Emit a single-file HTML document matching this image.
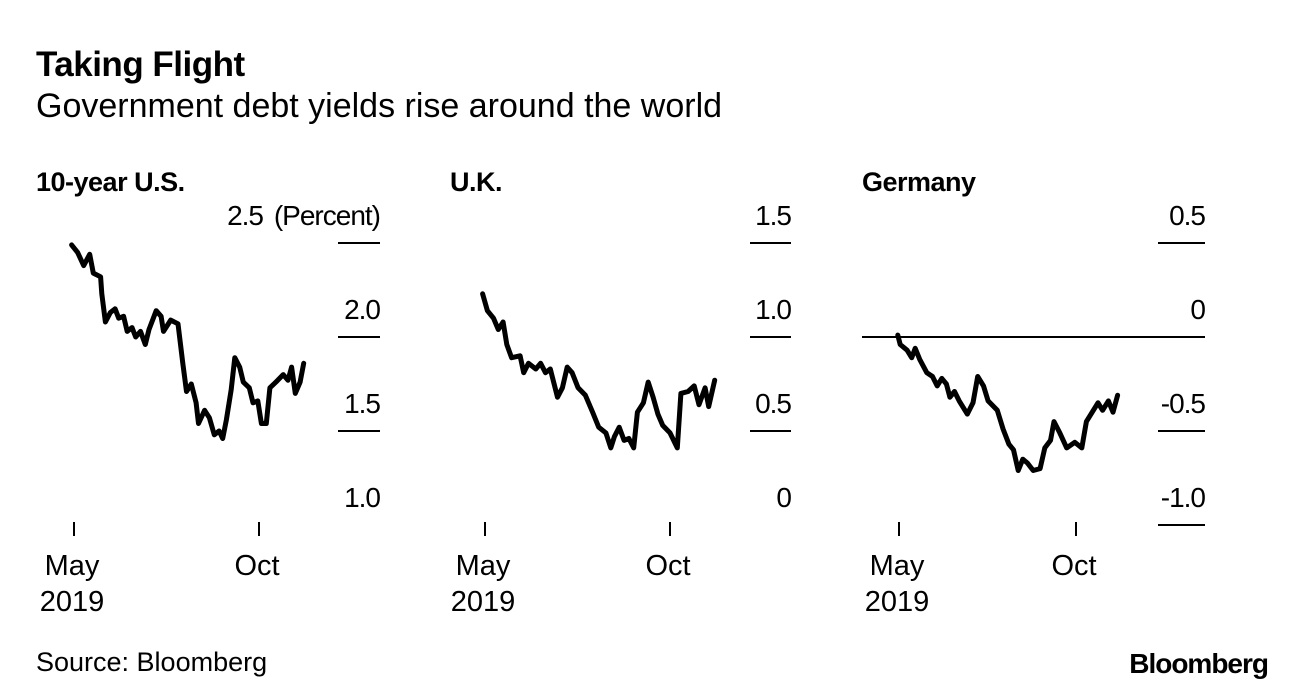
<!DOCTYPE html>
<html><head><meta charset="utf-8"><style>
body{margin:0;background:#fff;font-family:"Liberation Sans",Arial,sans-serif}
svg text{font-family:"Liberation Sans",Arial,sans-serif}
</style></head><body>
<svg id="c" width="1296" height="690" viewBox="0 0 1296 690">
<text x="36" y="76" font-size="35" font-weight="bold" letter-spacing="-0.5">Taking Flight</text>
<text x="36" y="117" font-size="34">Government debt yields rise around the world</text>
<text x="36" y="671" font-size="27">Source: Bloomberg</text>
<text x="1268" y="673" font-size="28" font-weight="bold" text-anchor="end" letter-spacing="-1">Bloomberg</text>
</svg>
<script>
const usDays=[-2,3,8,13,16,22,23,26,30,34,37,41,44,48,51,55,59,62,68,72,74,80,86,90,93,97,101,103,108,112,116,120,123,126,130,133,137,140,145,148,152,155,159,162,167,173,177,180,183,187,190];
const usVals=[2.49,2.45,2.38,2.44,2.34,2.32,2.23,2.08,2.13,2.15,2.10,2.11,2.03,2.05,2.0,2.03,1.96,2.04,2.14,2.11,2.03,2.09,2.07,1.86,1.71,1.75,1.65,1.54,1.61,1.57,1.48,1.50,1.46,1.56,1.72,1.89,1.84,1.76,1.73,1.65,1.66,1.54,1.54,1.73,1.76,1.80,1.77,1.84,1.70,1.76,1.86];
const ukDays=[-2,2,7,11,15,18,22,29,32,36,42,46,50,54,60,64,68,72,77,83,89,94,100,104,107,111,115,119,123,126,131,135,139,143,147,153,159,162,168,173,177,182,185,190];
const ukVals=[1.23,1.14,1.10,1.04,1.08,0.96,0.89,0.90,0.81,0.86,0.83,0.86,0.81,0.83,0.68,0.73,0.84,0.81,0.73,0.69,0.60,0.52,0.49,0.41,0.47,0.52,0.45,0.46,0.41,0.60,0.65,0.76,0.68,0.59,0.53,0.49,0.41,0.70,0.71,0.74,0.64,0.73,0.63,0.77];
const deDays=[-1,1,7,11,14,18,24,29,33,37,41,44,48,52,59,64,68,73,77,85,90,95,99,103,107,111,116,122,126,131,134,139,145,152,158,162,167,172,176,181,185,189];
const deVals=[0.01,-0.04,-0.07,-0.11,-0.06,-0.12,-0.19,-0.21,-0.26,-0.22,-0.25,-0.32,-0.29,-0.34,-0.41,-0.35,-0.21,-0.26,-0.34,-0.39,-0.49,-0.57,-0.60,-0.71,-0.65,-0.67,-0.71,-0.70,-0.59,-0.55,-0.45,-0.51,-0.59,-0.56,-0.59,-0.45,-0.40,-0.35,-0.39,-0.34,-0.40,-0.31];
const usTicks=["2.5","2.0","1.5","1.0"], ukTicks=["1.5","1.0","0.5","0"], deTicks=["0.5","0","-0.5","-1.0"];
const months=["May","Oct"];
const svg=document.getElementById('c');
const NS="http://www.w3.org/2000/svg";
function mk(tag,attrs){const e=document.createElementNS(NS,tag);for(const k in attrs)e.setAttribute(k,attrs[k]);svg.appendChild(e);return e;}
const panels=[
 {id:'us',title:'10-year U.S.',days:usDays,vals:usVals,ticks:usTicks,top:2.5,may:74,oct:259,tx0:338,tx1:380,lastTick:false,zero:false},
 {id:'uk',title:'U.K.',days:ukDays,vals:ukVals,ticks:ukTicks,top:1.5,may:485,oct:670,tx0:750,tx1:791,lastTick:false,zero:false},
 {id:'de',title:'Germany',days:deDays,vals:deVals,ticks:deTicks,top:0.5,may:899,oct:1076,tx0:1158,tx1:1205,lastTick:true,zero:true}];
const titleX=[36,450,862];
panels.forEach((p,i)=>{
 const y=v=>243+(p.top-v)*188;
 const x=d=>p.may+d*(p.oct-p.may)/153;
 const t=mk('text',{x:titleX[i],y:191,'font-size':27,'font-weight':'bold','letter-spacing':'-0.5'});t.textContent=p.title;
 
 
 p.ticks.forEach((lab,j)=>{
  const v=parseFloat(lab), ty=y(v);
  if(j<3||p.lastTick){const l=mk('line',{x1:p.tx0,x2:p.tx1,y1:ty,y2:ty,stroke:'#000','stroke-width':2});
   
   }
  const tx=mk('text',{x:(i==0&&j==0)?263:p.tx1,y:ty-18,'font-size':28,'text-anchor':'end','letter-spacing':'-1'});tx.textContent=lab;
  
  
 });
 if(i==0){const u=mk('text',{x:380,y:225,'font-size':28,'text-anchor':'end','letter-spacing':'-1'});u.textContent='(Percent)';
  
  }
 if(p.zero){const z=mk('line',{x1:862,x2:p.tx1,y1:y(0),y2:y(0),stroke:'#000','stroke-width':2});
  
  }
 [0,153].forEach((d,k)=>{
  const xx=x(d);
  const l=mk('line',{x1:xx,x2:xx,y1:522,y2:536,stroke:'#000','stroke-width':2});
  
  
  const m=mk('text',{x:xx-2,y:575,'font-size':29,'text-anchor':'middle'});m.textContent=months[k];
  
  
 });
 const yr=mk('text',{x:x(0)-2,y:611,'font-size':29,'text-anchor':'middle'});yr.textContent='2019';
 
 
 const pts=p.days.map((d,k)=>x(d).toFixed(1)+','+y(p.vals[k]).toFixed(1)).join(' ');
 const pl=mk('polyline',{points:pts,fill:'none',stroke:'#000','stroke-width':5,'stroke-linejoin':'round','stroke-linecap':'round'});
 
 
});
</script>
</body></html>
